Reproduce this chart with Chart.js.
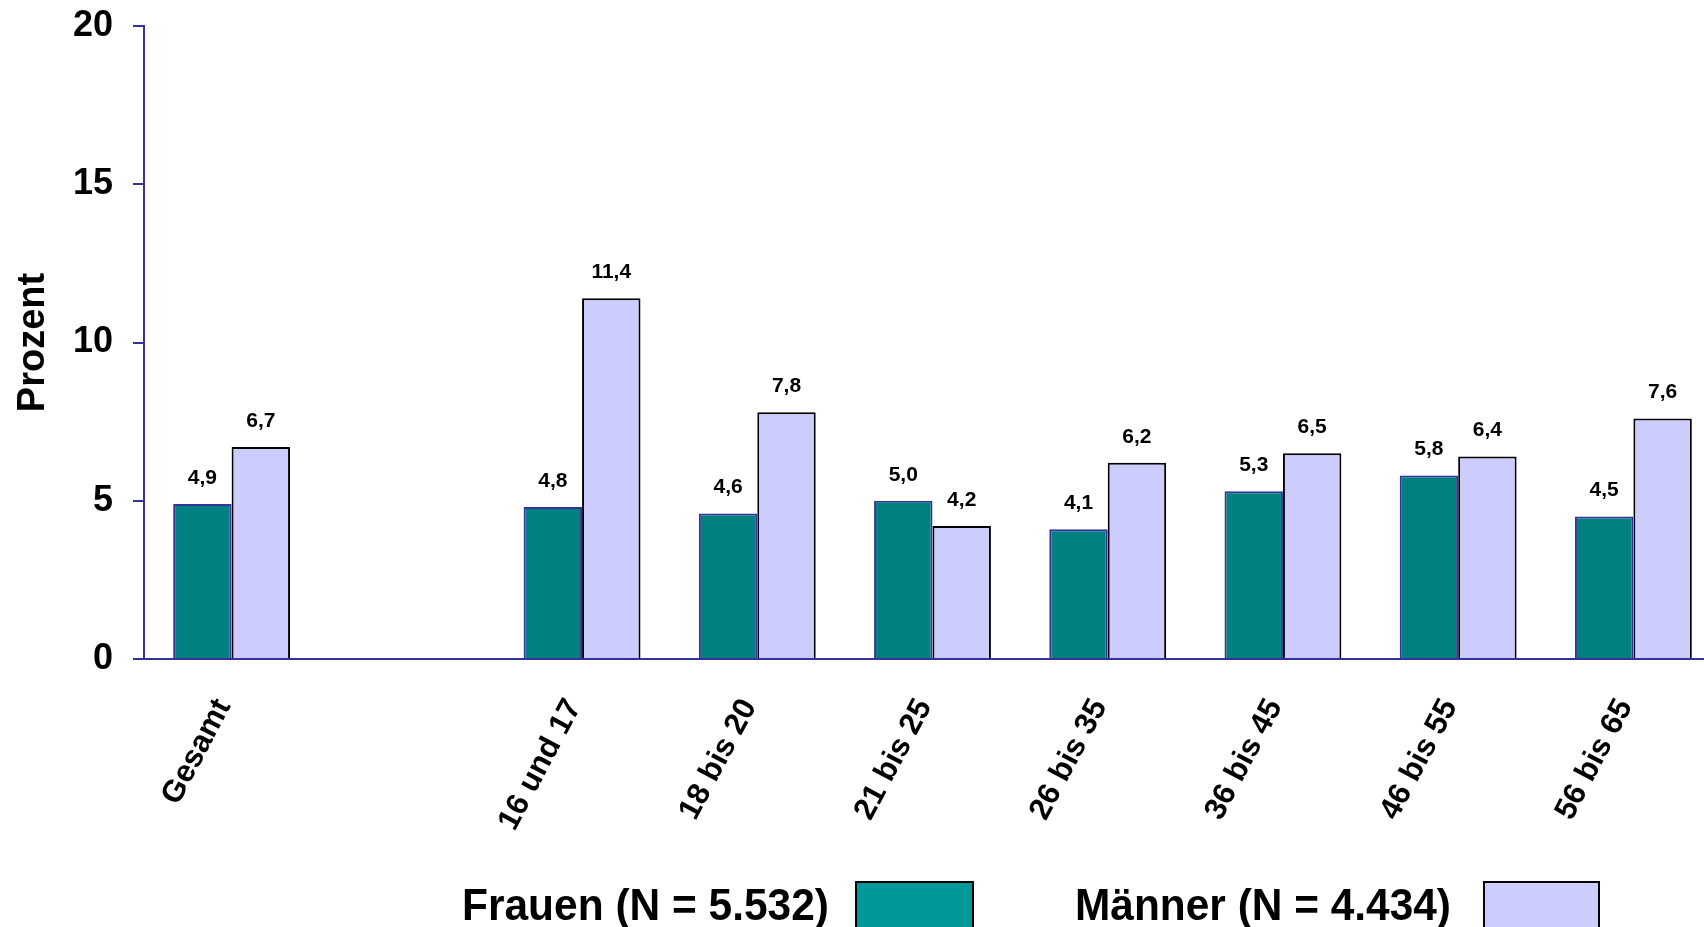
<!DOCTYPE html>
<html>
<head>
<meta charset="utf-8">
<style>
  html, body { margin: 0; padding: 0; overflow: hidden; background: #ffffff; }
  #wrap { width: 1760px; height: 927px; }
</style>
<script src="https://cdn.jsdelivr.net/npm/chart.js@4/dist/chart.umd.min.js"></script>
</head>
<body>
<div id="wrap"><canvas id="chart" width="1760" height="927"></canvas></div>
<script>
// Altersgruppen (the empty entry leaves a gap after "Gesamt")
const categories = ['Gesamt', '', '16 und 17', '18 bis 20', '21 bis 25', '26 bis 35', '36 bis 45', '46 bis 55', '56 bis 65'];
const frauen = [4.9, null, 4.8, 4.6, 5.0, 4.1, 5.3, 5.8, 4.5];
const maenner = [6.7, null, 11.4, 7.8, 4.2, 6.2, 6.5, 6.4, 7.6];
const yTicks = [0, 5, 10, 15, 20];
const legendItems = [
  { text: 'Frauen (N = 5.532)', color: '#009999' },
  { text: 'Männer (N = 4.434)', color: '#CCCCFF' }
];

const FONT = '"Liberation Sans", Arial, Helvetica, sans-serif';
const NAVY = '#333399';

// Value labels above each bar, German decimal comma
const valueLabels = {
  id: 'valueLabels',
  afterDatasetsDraw(chart) {
    const ctx = chart.ctx;
    ctx.save();
    ctx.font = 'bold 21px ' + FONT;
    ctx.fillStyle = '#000000';
    ctx.textAlign = 'center';
    ctx.textBaseline = 'middle';
    chart.data.datasets.forEach((ds, i) => {
      chart.getDatasetMeta(i).data.forEach((bar, j) => {
        const v = ds.data[j];
        if (v === null || v === undefined) return;
        ctx.fillText(v.toFixed(1).replace('.', ','), bar.x, bar.y - 26);
      });
    });
    ctx.restore();
  }
};

// Legend row: text followed by its colour box
const bottomLegend = {
  id: 'bottomLegend',
  afterDraw(chart) {
    const ctx = chart.ctx;
    const slots = [
      { right: 829, width: 367, boxX: 856, boxW: 117 },
      { right: 1451, width: 376, boxX: 1484, boxW: 115 }
    ];
    ctx.save();
    ctx.font = 'bold 44px ' + FONT;
    ctx.textAlign = 'right';
    ctx.textBaseline = 'alphabetic';
    legendItems.forEach((item, i) => {
      const s = slots[i];
      ctx.fillStyle = '#000000';
      ctx.fillText(item.text, s.right, 920, s.width);
      ctx.fillStyle = item.color;
      ctx.fillRect(s.boxX, 882, s.boxW, 60);
      ctx.lineWidth = 2;
      ctx.strokeStyle = '#000000';
      ctx.strokeRect(s.boxX, 882, s.boxW, 60);
    });
    ctx.restore();
  }
};

new Chart(document.getElementById('chart'), {
  type: 'bar',
  data: {
    labels: categories,
    datasets: [
      {
        label: legendItems[0].text,
        data: frauen,
        backgroundColor: '#008080',
        borderColor: NAVY,
        borderWidth: 2,
        categoryPercentage: 0.667,
        barPercentage: 1.0
      },
      {
        label: legendItems[1].text,
        data: maenner,
        backgroundColor: '#CCCCFF',
        borderColor: '#000000',
        borderWidth: 2,
        categoryPercentage: 0.667,
        barPercentage: 1.0
      }
    ]
  },
  options: {
    responsive: false,
    animation: false,
    layout: { padding: { left: 0, top: 26, right: 39, bottom: 0 } },
    plugins: {
      legend: { display: false },
      tooltip: { enabled: false }
    },
    scales: {
      x: {
        grid: { display: false, drawTicks: false },
        border: { display: true, color: NAVY, width: 2 },
        ticks: {
          autoSkip: false,
          maxRotation: 62,
          minRotation: 62,
          padding: 34,
          labelOffset: -8,
          color: '#000000',
          font: { family: FONT, size: 31, weight: 'bold' }
        },
        afterFit(scale) { scale.height = 268; }
      },
      y: {
        min: 0,
        max: 20,
        afterBuildTicks(scale) { scale.ticks = yTicks.map(v => ({ value: v })); },
        grid: {
          display: true,
          drawOnChartArea: false,
          drawTicks: true,
          tickLength: 11,
          color: NAVY,
          lineWidth: 2
        },
        border: { display: true, color: NAVY, width: 2 },
        ticks: {
          padding: 20,
          color: '#000000',
          font: { family: FONT, size: 36, weight: 'bold' }
        },
        title: {
          display: true,
          text: 'Prozent',
          color: '#000000',
          padding: { top: 11, bottom: 0 },
          font: { family: FONT, size: 38, weight: 'bold' }
        },
        afterFit(scale) {
          scale.width = 144;
          scale.paddingTop = 0;
          scale.paddingBottom = 0;
        }
      }
    }
  },
  plugins: [valueLabels, bottomLegend]
});
</script>
</body>
</html>
